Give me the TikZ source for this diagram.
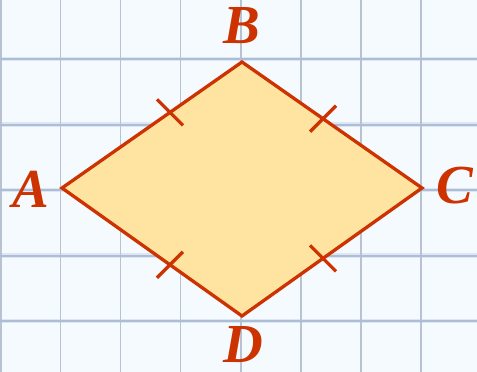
\documentclass[tikz,border=0pt]{standalone}
\usepackage{fontspec}
\setmainfont{Liberation Serif}
\usetikzlibrary{calc}
\definecolor{bgcol}{HTML}{F5FAFF}
\definecolor{vgrid}{HTML}{B8C2D2}
\definecolor{hgrid}{HTML}{AEBDD6}
\definecolor{hhalo}{HTML}{DCE6F4}
\definecolor{edgecol}{HTML}{CC3300}
\definecolor{fillcol}{HTML}{FFE4A1}
\tikzset{
  vline/.style={draw=vgrid, line width=1.8pt},
  hhaloline/.style={draw=hhalo, line width=4.5pt},
  hline/.style={draw=hgrid, line width=2pt},
  side/.style={draw=edgecol, line width=3.3pt, line join=miter, fill=fillcol},
  tick/.style={draw=edgecol, line width=3.3pt},
  vlabel/.style={text=edgecol, inner sep=0pt, font=\fontsize{55}{55}\selectfont\bfseries\itshape}
}
\begin{document}
\begin{tikzpicture}[x=1pt,y=-1pt]
\fill[bgcol] (0,0) rectangle (477,372);
\useasboundingbox (0,0) rectangle (477,372);
% grid
\foreach \y in {59,124.5,190,255.5,321} {
  \draw[hhaloline] (0,\y) -- (477,\y);
}
\foreach \x in {1,60.5,120.5,180.5,241,301,361,421} {
  \draw[vline] (\x,0) -- (\x,372);
}
\foreach \y in {59,124.5,190,255.5,321} {
  \draw[hline] (0,\y) -- (477,\y);
}
% rhombus
\coordinate (A) at (62,188);
\coordinate (B) at (242,62);
\coordinate (C) at (422,188);
\coordinate (D) at (242,316);
\draw[side] (A) -- (B) -- (C) -- (D) -- cycle;
% ticks
\coordinate (tAB) at ($(A)!0.6!(B)$);
\coordinate (tBC) at ($(B)!0.45!(C)$);
\coordinate (tCD) at ($(C)!0.55!(D)$);
\coordinate (tDA) at ($(D)!0.4!(A)$);
\draw[tick] ($(tAB)+(-13,-13)$) -- ($(tAB)+(13,13)$);
\draw[tick] ($(tCD)+(-13,-13)$) -- ($(tCD)+(13,13)$);
\draw[tick] ($(tBC)+(13,-13)$) -- ($(tBC)+(-13,13)$);
\draw[tick] ($(tDA)+(13,-13)$) -- ($(tDA)+(-13,13)$);
% labels
\node[vlabel] (lA) at (31,189) {A};
\node[vlabel] (lB) at (242,26) {B};
\node[vlabel] (lC) at (455,186) {C};
\node[vlabel] (lD) at (243,345) {D};
\end{tikzpicture}
\end{document}
